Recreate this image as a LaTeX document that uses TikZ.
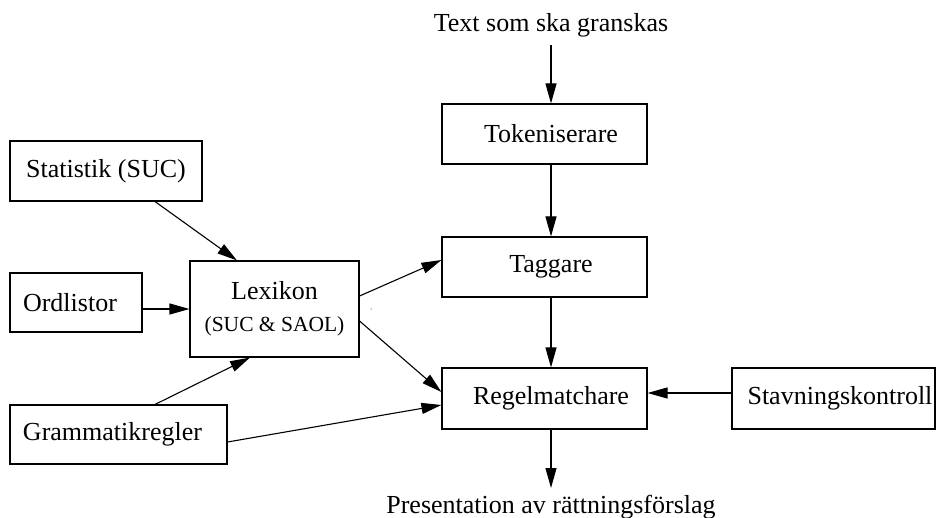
\documentclass[tikz,border=0pt]{standalone}
\usepackage{fontspec}
\setmainfont{Liberation Serif}
\usetikzlibrary{arrows.meta,calc}

\tikzset{
  box/.style={draw, line width=1.1pt, inner sep=0pt, font=\fontsize{26}{30}\selectfont},
  arr/.style={line width=1.1pt, -{Triangle[length=20pt,width=11pt]}},
  lbl/.style={inner sep=0pt, anchor=base, font=\fontsize{26}{30}\selectfont},
}

\begin{document}
\begin{tikzpicture}[x=1pt,y=-1pt]
  \useasboundingbox (0,0) rectangle (936,518);

  % main pipeline
  \node[lbl] (src) at (551,32) {Text som ska granskas};
  \node[box, minimum width=205pt, minimum height=60pt] (tok) at (544.5,134) {\hspace*{13pt}Tokeniserare};
  \node[box, minimum width=205pt, minimum height=60pt] (tag) at (544.5,267) {\hspace*{13pt}Taggare};
  \node[box, minimum width=205pt, minimum height=61pt] (reg) at (544.5,398.5) {\hspace*{13pt}Regelmatchare};
  \node[lbl] (pres) at (551,513) {Presentation av rättningsförslag};

  % side inputs
  \node[box, minimum width=203pt, minimum height=61pt] (stav) at (833.5,398.5) {\hspace*{13pt}Stavningskontroll};
  \node[box, minimum width=192pt, minimum height=60pt] (stat) at (106,171) {Statistik (SUC)};
  \node[box, minimum width=132pt, minimum height=59pt] (ord) at (76,302.5) {Ordlistor\hspace*{12pt}};
  \node[box, minimum width=169pt, minimum height=96pt, align=center] (lex) at (274.5,309)
    {Lexikon\\[2pt]{\fontsize{21.5}{24}\selectfont (SUC \& SAOL)}};
  \node[box, minimum width=217pt, minimum height=59pt] (gram) at (118.5,434.5) {Grammatikregler\hspace*{12pt}};

  % pipeline arrows
  \draw[arr] ($(src.base)+(0,13)$) -- (tok.north -| src.base);
  \draw[arr] (tok.south -| src.base) -- (tag.north -| src.base);
  \draw[arr] (tag.south -| src.base) -- (reg.north -| src.base);
  \draw[arr] (reg.south -| src.base) -- ($(pres.base)+(0,-25)$);
  \draw[arr] (stav.west |- 0,393) -- (reg.east |- 0,393);

  % lexicon inputs
  \draw[arr] ([xshift=49pt]stat.south) -- ([xshift=-37.5pt]lex.north);
  \draw[arr] (ord.east |- lex.west) -- (lex.west);
  \draw[arr] ([xshift=36.5pt]gram.north) -- ([xshift=-24.5pt]lex.south);

  % into tagger and rule matcher
  \draw[arr] ([yshift=13pt]lex.east) -- ([yshift=7pt]tag.west);
  \draw[arr] ([yshift=-12pt]lex.east) -- ([yshift=6.5pt]reg.west);
  \draw[arr] ([yshift=-7.5pt]gram.east) -- ([yshift=-6.5pt]reg.west);

  \fill (371,309) circle (0.5pt);
\end{tikzpicture}
\end{document}
